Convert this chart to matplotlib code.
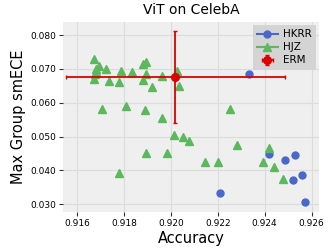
import matplotlib.pyplot as plt
from matplotlib.lines import Line2D

# HKRR points
hkrr_acc = [0.92333, 0.92210, 0.92417, 0.92487, 0.92530, 0.92522, 0.92561, 0.92571]
hkrr_ece = [0.0685, 0.0332, 0.0449, 0.0430, 0.0446, 0.0371, 0.0386, 0.0307]

# HJZ points
hjz_acc = [0.91672, 0.91693, 0.91680, 0.91682, 0.91678, 0.91672, 0.91722, 0.91735,
           0.91780, 0.91788, 0.91833, 0.91880, 0.91893, 0.91893, 0.91883, 0.91962,
           0.91920, 0.92026, 0.92036, 0.91705, 0.91810, 0.91890, 0.91962, 0.92015,
           0.92052, 0.92079, 0.91895, 0.91985, 0.91779, 0.92250, 0.92283, 0.92420,
           0.92146, 0.92203, 0.92395, 0.92440, 0.92478]
hjz_ece = [0.0730, 0.0710, 0.0700, 0.0692, 0.0685, 0.0670, 0.0700, 0.0665,
           0.0661, 0.0694, 0.0690, 0.0714, 0.0719, 0.0685, 0.0667, 0.0679,
           0.0645, 0.0695, 0.0649, 0.0581, 0.0591, 0.0579, 0.0554, 0.0503,
           0.0498, 0.0487, 0.0451, 0.0450, 0.0393, 0.0581, 0.0476, 0.0467,
           0.0424, 0.0424, 0.0424, 0.0411, 0.0374]

# ERM mean with error
erm_acc = 0.92019
erm_ece = 0.0676
erm_acc_err = 0.00467
erm_ece_err = 0.0137

blue = '#4a68c8'
green = '#5cb85c'
red = '#dd0000'

fig = plt.figure(figsize=(3.32, 2.49), dpi=100)
ax = fig.add_axes([0.19, 0.149, 0.771, 0.763])
ax.set_facecolor('#efefef')
for s in ax.spines.values():
    s.set_visible(False)
ax.grid(True, color='#dcdcdc', linewidth=0.8)
ax.set_axisbelow(True)

ax.plot(hkrr_acc, hkrr_ece, 'o', color=blue, markersize=5, zorder=3)
ax.plot(hjz_acc, hjz_ece, '^', color=green, markersize=5.5, zorder=3)
ax.errorbar(erm_acc, erm_ece, xerr=erm_acc_err, yerr=erm_ece_err, fmt='o',
            color=red, markersize=5.5, capsize=1.5, elinewidth=1.3, zorder=4)

ax.set_xlim(0.9154, 0.92632)
ax.set_ylim(0.0277, 0.0839)
ax.set_xticks([0.916, 0.918, 0.920, 0.922, 0.924, 0.926])
ax.set_yticks([0.030, 0.040, 0.050, 0.060, 0.070, 0.080])
ax.xaxis.set_major_formatter(plt.FormatStrFormatter('%.3f'))
ax.yaxis.set_major_formatter(plt.FormatStrFormatter('%.3f'))
ax.tick_params(labelsize=6.5, length=3, width=0.8, color='#333333', pad=2)

ax.set_title('ViT on CelebA', fontsize=10)
ax.set_xlabel('Accuracy', fontsize=10.5, labelpad=2)
ax.set_ylabel('Max Group smECE', fontsize=10.5, labelpad=3)

handles = [
    Line2D([], [], color=blue, marker='o', markersize=5),
    Line2D([], [], color=green, marker='^', markersize=5.5),
    ax.get_legend_handles_labels()[0][0] if ax.get_legend_handles_labels()[0] else
    Line2D([], [], color=red, marker='o', linestyle='none'),
]
from matplotlib.container import ErrorbarContainer
erm_handle = [c for c in ax.containers if isinstance(c, ErrorbarContainer)][0]
handles[2] = erm_handle
leg = ax.legend(handles, ['HKRR', 'HJZ', 'ERM'], loc='upper right', fontsize=7.5,
                facecolor='#d4d4d4', edgecolor='none', framealpha=1,
                handlelength=2, borderpad=0.4, labelspacing=0.3, handletextpad=0.5,
                borderaxespad=0.3)
leg.get_frame().set_boxstyle('square', pad=0)

fig.savefig('out.png', dpi=100)
